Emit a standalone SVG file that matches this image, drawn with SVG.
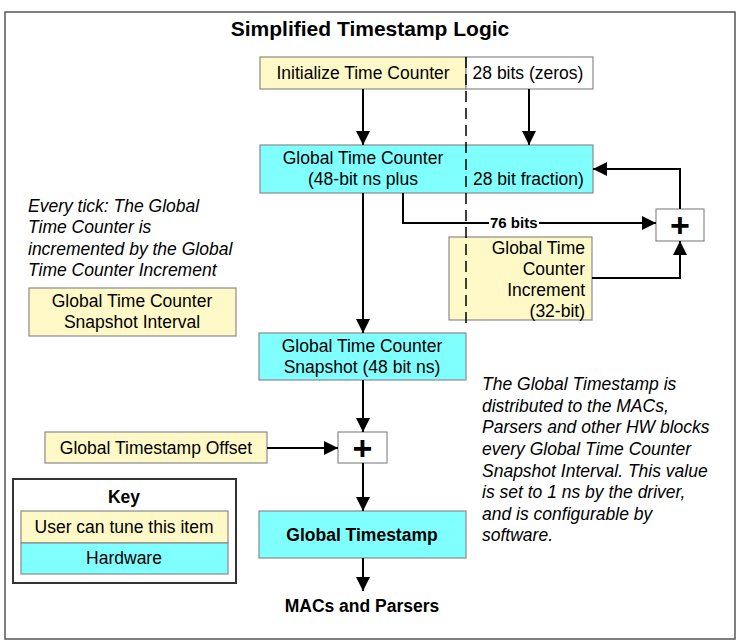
<svg xmlns="http://www.w3.org/2000/svg" width="740" height="643" viewBox="0 0 740 643">
<defs>
<marker id="ah" markerUnits="userSpaceOnUse" markerWidth="14" markerHeight="14" viewBox="0 0 14 14" refX="14" refY="7" orient="auto">
<path d="M0,0 L14,7 L0,14 Z" fill="#000"/>
</marker>
<style>
text{font-family:"Liberation Sans",Arial,sans-serif;font-size:17.5px;fill:#000}
.b{font-weight:bold}
.i{font-style:italic}
.m{text-anchor:middle}
.e{text-anchor:end}
.y{fill:#FFF9C8;stroke:#8a8a8a;stroke-width:1.2}
.c{fill:#80FFFF;stroke:#8a8a8a;stroke-width:1.2}
.w{fill:#fff;stroke:#8a8a8a;stroke-width:1.2}
.ln{fill:none;stroke:#000;stroke-width:2}
.ar{fill:none;stroke:#000;stroke-width:2;marker-end:url(#ah)}
.plus{font-size:34px;font-weight:bold;text-anchor:middle}
</style>
</defs>
<rect x="0" y="0" width="740" height="643" fill="#fff"/>
<rect x="5" y="12" width="730" height="627" fill="none" stroke="#555" stroke-width="1.5"/>
<text class="b m" x="370" y="36" style="font-size:21px">Simplified Timestamp Logic</text>

<g id="init">
<rect class="y" x="260" y="57" width="206" height="32"/>
<text class="m" x="363" y="79">Initialize Time Counter</text>
</g>
<g id="zeros">
<rect class="w" x="466" y="57" width="127" height="32"/>
<text class="m" x="528" y="79">28 bits (zeros)</text>
</g>
<g id="gtc">
<rect class="c" x="260" y="145" width="333" height="48"/>
<text class="m" x="363" y="164">Global Time Counter</text>
<text class="m" x="363" y="185">(48-bit ns plus</text>
<text x="473" y="185">28 bit fraction)</text>
</g>
<g id="increment">
<rect class="y" x="449" y="237" width="143" height="83"/>
<text class="e" x="585" y="254">Global Time</text>
<text class="e" x="585" y="275">Counter</text>
<text class="e" x="585" y="296">Increment</text>
<text class="e" x="585" y="317">(32-bit)</text>
</g>
<g id="plus1">
<rect class="w" x="656" y="209" width="48" height="32"/>
<text class="plus" x="680" y="237">+</text>
</g>
<g id="note1">
<text class="i" x="28" y="212">Every tick: The Global</text>
<text class="i" x="28" y="233">Time Counter is</text>
<text class="i" x="28" y="255">incremented by the Global</text>
<text class="i" x="28" y="276">Time Counter Increment</text>
</g>
<g id="interval">
<rect class="y" x="29" y="288" width="207" height="48"/>
<text class="m" x="132" y="307">Global Time Counter</text>
<text class="m" x="132" y="328">Snapshot Interval</text>
</g>
<g id="snapshot">
<rect class="c" x="259" y="333" width="207" height="47"/>
<text class="m" x="362" y="352">Global Time Counter</text>
<text class="m" x="362" y="373">Snapshot (48 bit ns)</text>
</g>
<g id="note2">
<text class="i" x="482" y="390">The Global Timestamp is</text>
<text class="i" x="482" y="412">distributed to the MACs,</text>
<text class="i" x="482" y="433">Parsers and other HW blocks</text>
<text class="i" x="482" y="455">every Global Time Counter</text>
<text class="i" x="482" y="477">Snapshot Interval. This value</text>
<text class="i" x="482" y="498">is set to 1 ns by the driver,</text>
<text class="i" x="482" y="520">and is configurable by</text>
<text class="i" x="482" y="541">software.</text>
</g>
<g id="offset">
<rect class="y" x="45" y="432" width="222" height="31"/>
<text class="m" x="156" y="454">Global Timestamp Offset</text>
</g>
<g id="plus2">
<rect class="w" x="338" y="432" width="49" height="31"/>
<text class="plus" x="362.5" y="460">+</text>
</g>
<g id="timestamp">
<rect class="c" x="259" y="511" width="207" height="47"/>
<text class="b m" x="362" y="541">Global Timestamp</text>
</g>
<g id="macs">
<text class="b m" x="362" y="612">MACs and Parsers</text>
</g>
<g id="key">
<rect x="13" y="479" width="223" height="104" fill="#fff" stroke="#333" stroke-width="2"/>
<text class="b m" x="124" y="503">Key</text>
<rect class="y" x="21" y="511" width="207" height="32"/>
<text class="m" x="124" y="533">User can tune this item</text>
<rect class="c" x="21" y="543" width="207" height="31"/>
<text class="m" x="124" y="564">Hardware</text>
</g>

<g id="connectors">
<line x1="466" y1="57" x2="466" y2="326" stroke="#000" stroke-width="1.5" stroke-dasharray="11,6"/>
<line class="ar" x1="363" y1="89" x2="363" y2="145"/>
<line class="ar" x1="529" y1="89" x2="529" y2="145"/>
<line class="ar" x1="363" y1="193" x2="363" y2="333"/>
<polyline class="ar" points="403,193 403,223 656,223"/>
<rect x="489" y="214" width="50" height="17" fill="#fff"/>
<text class="b" x="490" y="228" style="font-size:15px">76 bits</text>
<polyline class="ar" points="592,278 680,278 680,241"/>
<polyline class="ar" points="680,209 680,169 593,169"/>
<line class="ar" x1="363" y1="380" x2="363" y2="432"/>
<line class="ar" x1="267" y1="448" x2="338" y2="448"/>
<line class="ar" x1="363" y1="463" x2="363" y2="511"/>
<line class="ar" x1="363" y1="558" x2="363" y2="591"/>
</g>
</svg>
